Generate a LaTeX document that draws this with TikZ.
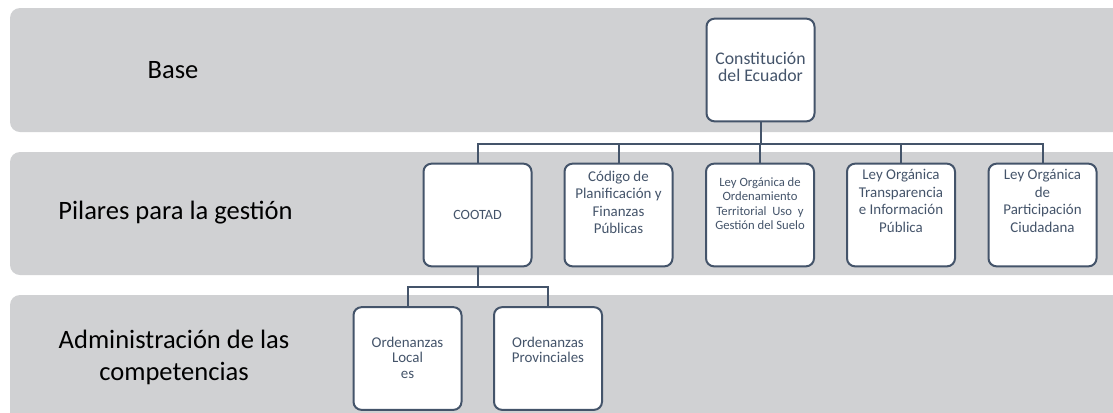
\documentclass[tikz,border=0pt]{standalone}
\usepackage{fontspec}
\setmainfont{Carlito}
\usepackage{tikz}
\usetikzlibrary{positioning}
\definecolor{bandgray}{RGB}{208,209,211}
\definecolor{slate}{RGB}{68,84,106}

\begin{document}
\begin{tikzpicture}[x=0.75pt,y=-0.75pt,
  banda/.style={fill=bandgray,rounded corners=7.5pt},
  caja/.style={rectangle,rounded corners=6pt,draw=slate,line width=1.5pt,
               fill=white,minimum width=81pt,minimum height=77pt,inner sep=0pt,
               text=slate,font=\fontsize{10.6}{12.5}\selectfont},
  txt/.style={inner sep=0pt,align=center,text=slate,
              font=\fontsize{11.2}{13.1}\selectfont},
  etiq/.style={align=center,font=\fontsize{19.9}{24}\selectfont},
  linea/.style={draw=slate,line width=1.5pt},
]
\useasboundingbox (0,0) rectangle (1113,412);
\clip (0,0) rectangle (1113,412);

% bands
\fill[banda] (10,8) rectangle (1130,132);
\fill[banda] (10,152) rectangle (1130,275);
\fill[banda] (10,295) rectangle (1130,430);

% left labels
\node[etiq] (lbase) at (173,70) {Base};
\node[etiq] (lpil) at (175.5,213) {Pilares para la gestión};
\node[etiq] (ladm) at (174,357) {Administración de las\\competencias};

% base
\node[caja] (cons) at (760.5,70) {};
\node[txt,font=\fontsize{13.3}{12.5}\selectfont,below=26pt of cons.north] (consT)
     {Constitución\\del Ecuador};

% pilares
\node[caja] (p1) at (477.5,215) {COOTAD};
\node[caja] (p2) at (618.5,215) {};
\node[caja] (p3) at (760,215) {};
\node[caja] (p4) at (901,215) {};
\node[caja] (p5) at (1042.5,215) {};
\node[txt,below=6pt of p2.north] (p2T) {Código de\\Planificación y\\Finanzas\\Públicas};
\node[txt,font=\fontsize{9.5}{10.8}\selectfont,below=11pt of p3.north] (p3T)
     {Ley Orgánica de\\Ordenamiento\\Territorial\ \ Uso\ \ y\\Gestión del Suelo};
\node[txt,below=5pt of p4.north] (p4T) {Ley Orgánica\\Transparencia\\e Información\\Pública};
\node[txt,below=5pt of p5.north] (p5T) {Ley Orgánica\\de\\Participación\\Ciudadana};

% competencias
\node[caja] (o1) at (407.5,358.5) {};
\node[caja] (o2) at (548,358.5) {};
\node[txt,font=\fontsize{11.2}{11.6}\selectfont,below=23pt of o1.north] (o1T)
     {Ordenanzas\\Local\\es};
\node[txt,font=\fontsize{11.2}{11.6}\selectfont,below=23pt of o2.north] (o2T)
     {Ordenanzas\\Provinciales};

% connectors
\foreach \n in {p1,p2,p3,p4,p5}
  \draw[linea] (cons.south) -- ++(0,21.5) -| (\n.north);
\foreach \n in {o1,o2}
  \draw[linea] (p1.south) -- ++(0,20) -| (\n.north);
\end{tikzpicture}
\end{document}
